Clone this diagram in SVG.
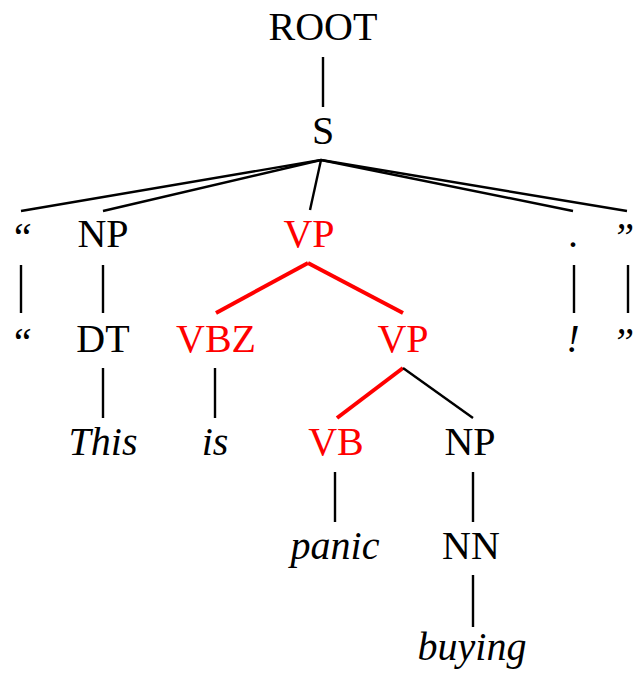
<svg xmlns="http://www.w3.org/2000/svg" width="635" height="674" viewBox="0 0 635 674">
<style>
text{font-family:"Liberation Serif","Times New Roman",serif;font-size:40px;text-anchor:middle;fill:#000}
.r{fill:#ff0000}
.i{font-style:italic}
.e{stroke:#000;stroke-width:2.4;fill:none}
.er{stroke:#ff0000;stroke-width:4;fill:none}
</style>
<rect width="635" height="674" fill="#fff"/>
<g id="connectors">
<line class="e" x1="323" y1="57" x2="323" y2="107"/>
<line class="e" x1="321" y1="160" x2="21" y2="211"/>
<line class="e" x1="321" y1="160" x2="103" y2="211"/>
<line class="e" x1="321" y1="160" x2="310" y2="210"/>
<line class="e" x1="321" y1="160" x2="573" y2="211"/>
<line class="e" x1="321" y1="160" x2="627" y2="211"/>
<line class="e" x1="21" y1="265" x2="21" y2="313"/>
<line class="e" x1="103" y1="265" x2="103" y2="313"/>
<line class="e" x1="574" y1="265" x2="574" y2="313"/>
<line class="e" x1="628" y1="265" x2="628" y2="313"/>
<line class="er" x1="308" y1="263" x2="216" y2="313"/>
<line class="er" x1="308" y1="263" x2="403" y2="313"/>
<line class="e" x1="103" y1="368" x2="103" y2="418"/>
<line class="e" x1="215" y1="368" x2="215" y2="418"/>
<line class="er" x1="403" y1="368" x2="337" y2="418"/>
<line class="e" x1="403" y1="368" x2="473" y2="418"/>
<line class="e" x1="335" y1="472" x2="335" y2="522"/>
<line class="e" x1="473" y1="472" x2="473" y2="522"/>
<line class="e" x1="473" y1="575" x2="473" y2="627"/>
</g>
<g id="n-root"><text x="323" y="40">ROOT</text></g>
<g id="n-s"><text x="323" y="144">S</text></g>
<g id="n-lq1"><text class="i" x="21" y="250">“</text></g>
<g id="n-np1"><text x="103" y="247">NP</text></g>
<g id="n-vp1"><text class="r" x="309" y="247">VP</text></g>
<g id="n-dot"><text x="573" y="247">.</text></g>
<g id="n-rq1"><text class="i" x="623" y="250">”</text></g>
<g id="n-lq2"><text class="i" x="21" y="355">“</text></g>
<g id="n-dt"><text x="103" y="352">DT</text></g>
<g id="n-vbz"><text class="r" x="216" y="352">VBZ</text></g>
<g id="n-vp2"><text class="r" x="403" y="352">VP</text></g>
<g id="n-excl"><text class="i" x="573" y="352">!</text></g>
<g id="n-rq2"><text class="i" x="623" y="355">”</text></g>
<g id="n-this"><text class="i" x="103" y="455">This</text></g>
<g id="n-is"><text class="i" x="215" y="455">is</text></g>
<g id="n-vb"><text class="r" x="336" y="455">VB</text></g>
<g id="n-np2"><text x="470" y="455">NP</text></g>
<g id="n-panic"><text class="i" x="335" y="559">panic</text></g>
<g id="n-nn"><text x="471" y="559">NN</text></g>
<g id="n-buying"><text class="i" x="472" y="660">buying</text></g>
</svg>
